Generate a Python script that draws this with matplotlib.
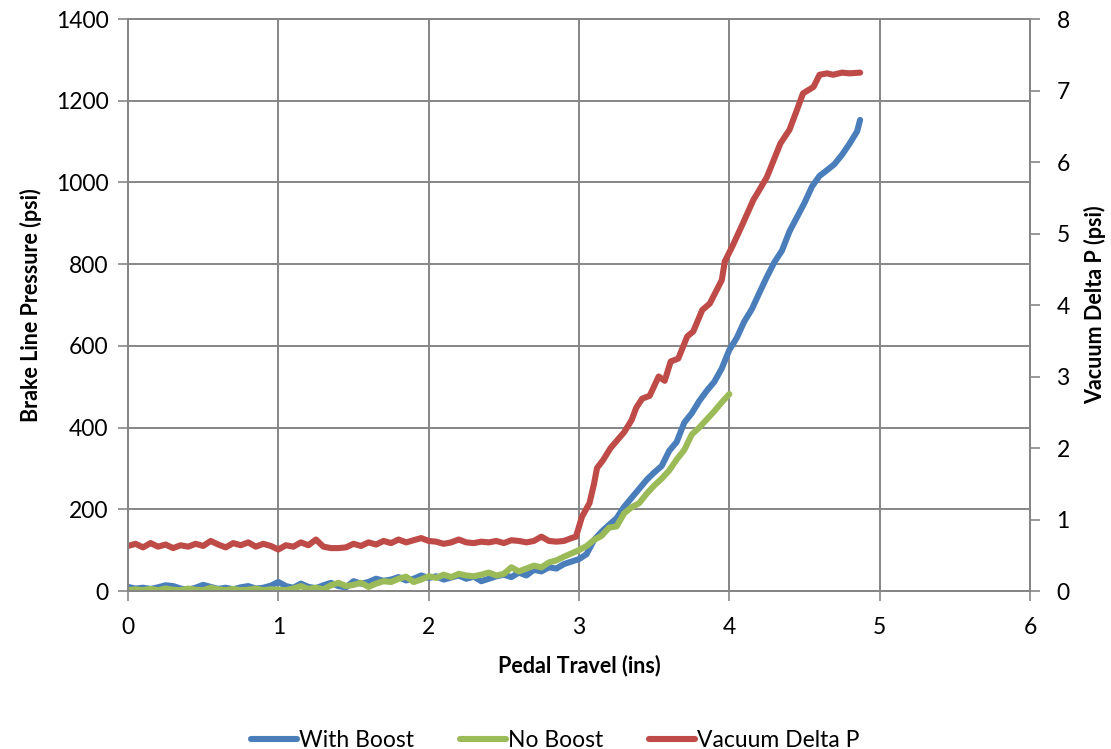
import matplotlib
matplotlib.use("Agg")
import matplotlib.pyplot as plt

# ---- data ----
wb_x = [0.00,0.05,0.10,0.15,0.20,0.25,0.30,0.35,0.40,0.45,0.50,0.55,0.60,0.65,0.70,0.75,0.80,0.85,0.90,0.95,
        1.00,1.05,1.10,1.15,1.20,1.25,1.30,1.35,1.40,1.45,1.50,1.55,1.60,1.65,1.70,1.75,1.80,1.85,1.90,1.95,
        2.00,2.05,2.10,2.15,2.20,2.25,2.30,2.35,2.40,2.45,2.50,2.55,2.60,2.65,2.70,2.75,2.80,2.85,2.90,2.95,
        3.00,3.05,3.10,3.15,3.20,3.25,3.30,3.35,3.40,3.45,3.50,3.55,3.60,3.65,3.70,3.75,3.80,3.85,3.90,3.95,
        4.00,4.05,4.10,4.15,4.20,4.25,4.30,4.35,4.40,4.45,4.50,4.55,4.60,4.65,4.70,4.75,4.80,4.85,4.87]
wb_y = [10,6,8,5,9,14,12,6,3,8,15,10,5,8,4,9,12,6,8,13,
        22,12,8,18,10,7,14,20,12,9,24,18,22,30,25,28,34,26,30,38,
        32,36,28,33,38,30,35,24,30,36,40,34,45,38,52,48,58,55,66,72,
        78,90,125,145,162,178,206,228,250,272,290,306,343,365,412,435,465,490,512,545,
        590,620,660,690,730,769,805,833,880,915,950,990,1016,1030,1045,1068,1095,1125,1153]

nb_x = [0.00,0.05,0.10,0.15,0.20,0.25,0.30,0.35,0.40,0.45,0.50,0.55,0.60,0.65,0.70,0.75,0.80,0.85,0.90,0.95,
        1.00,1.05,1.10,1.15,1.20,1.25,1.30,1.35,1.40,1.45,1.50,1.55,1.60,1.65,1.70,1.75,1.80,1.85,1.90,1.95,
        2.00,2.05,2.10,2.15,2.20,2.25,2.30,2.35,2.40,2.45,2.50,2.55,2.60,2.65,2.70,2.75,2.80,2.85,2.90,2.95,
        3.00,3.05,3.10,3.15,3.20,3.25,3.30,3.35,3.40,3.45,3.50,3.55,3.60,3.65,3.70,3.75,3.80,3.85,3.90,3.95,4.00]
nb_y = [2,4,2,5,2,6,3,2,6,3,2,8,4,2,5,2,3,6,2,4,
        3,2,6,12,5,8,4,14,20,12,15,20,10,18,24,22,30,35,22,28,
        36,32,40,34,42,38,36,40,45,38,42,58,48,55,62,58,70,75,84,92,
        100,110,125,135,155,158,190,205,215,238,258,275,295,322,345,383,400,420,440,462,482]

vd_x = [0.00,0.05,0.10,0.15,0.20,0.25,0.30,0.35,0.40,0.45,0.50,0.55,0.60,0.65,0.70,0.75,0.80,0.85,0.90,0.95,
        1.00,1.05,1.10,1.15,1.20,1.25,1.30,1.35,1.40,1.45,1.50,1.55,1.60,1.65,1.70,1.75,1.80,1.85,1.90,1.95,
        2.00,2.05,2.10,2.15,2.20,2.25,2.30,2.35,2.40,2.45,2.50,2.55,2.60,2.65,2.70,2.75,2.80,2.85,2.90,2.95,
        2.98,3.02,3.07,3.10,3.12,3.16,3.21,3.30,3.35,3.38,3.42,3.47,3.53,3.57,3.61,3.66,3.72,3.76,3.82,3.87,
        3.95,3.97,4.02,4.09,4.16,4.20,4.25,4.34,4.40,4.45,4.49,4.56,4.60,4.65,4.69,4.75,4.80,4.87]
vd_y = [0.63,0.66,0.61,0.67,0.62,0.65,0.60,0.64,0.62,0.66,0.63,0.70,0.65,0.61,0.67,0.64,0.68,0.62,0.66,0.63,
        0.58,0.64,0.62,0.68,0.64,0.72,0.62,0.60,0.60,0.61,0.66,0.63,0.68,0.65,0.70,0.67,0.72,0.68,0.71,0.74,
        0.70,0.69,0.66,0.68,0.72,0.68,0.67,0.69,0.68,0.70,0.67,0.71,0.70,0.68,0.70,0.76,0.70,0.69,0.70,0.74,
        0.76,1.04,1.23,1.50,1.72,1.83,2.00,2.22,2.39,2.56,2.69,2.73,3.00,2.94,3.21,3.25,3.56,3.63,3.93,4.02,
        4.35,4.61,4.82,5.14,5.47,5.61,5.79,6.26,6.45,6.73,6.96,7.05,7.22,7.24,7.22,7.25,7.24,7.25]

x_ticks = [0, 1, 2, 3, 4, 5, 6]
left_ticks = [0, 200, 400, 600, 800, 1000, 1200, 1400]
right_ticks = [0, 1, 2, 3, 4, 5, 6, 7, 8]

BLUE = "#4A7EBB"
GREEN = "#9BBB59"
RED = "#BE4B48"
GRID = "#868686"

plt.rcParams['font.family'] = ['Lato', 'DejaVu Sans']

fig = plt.figure(figsize=(11.11, 7.49), dpi=100)
ax = fig.add_axes([128/1111, 1 - 591/749, (1030-128)/1111, (591-19)/749])
ax2 = ax.twinx()

LW = 4.4
l1, = ax.plot(wb_x, wb_y, color=BLUE, lw=LW, solid_capstyle='round', solid_joinstyle='round', label='With Boost')
l2, = ax.plot(nb_x, nb_y, color=GREEN, lw=LW, solid_capstyle='round', solid_joinstyle='round', label='No Boost')
l3, = ax2.plot(vd_x, vd_y, color=RED, lw=LW, solid_capstyle='round', solid_joinstyle='round', label='Vacuum Delta P')

ax.set_xlim(0, 6)
ax.set_ylim(0, 1400)
ax2.set_ylim(0, 8)
ax.set_xticks(x_ticks)
ax.set_yticks(left_ticks)
ax2.set_yticks(right_ticks)
ax.set_xticklabels([str(v) for v in x_ticks])
ax.set_yticklabels([str(v) for v in left_ticks])
ax2.set_yticklabels([str(v) for v in right_ticks])

ax.grid(True, color=GRID, lw=1.4)
ax.set_axisbelow(True)
for a in (ax, ax2):
    for s in a.spines.values():
        s.set_color(GRID)
        s.set_linewidth(1.4)
ax.tick_params(axis='both', direction='out', length=7, width=1.2, color=GRID,
               labelsize=16.5, labelcolor='black')
ax.tick_params(axis='x', pad=12)
ax.tick_params(axis='y', pad=7)
ax2.tick_params(axis='y', direction='out', length=7, width=1.2, color=GRID,
                labelsize=16.5, labelcolor='black', pad=12)

ax.set_xlabel('Pedal Travel (ins)', fontsize=15.5, fontweight='bold', labelpad=12)
ax.set_ylabel('Brake Line Pressure (psi)', fontsize=15.5, fontweight='bold', labelpad=10)
ax2.set_ylabel('Vacuum Delta P (psi)', fontsize=15.5, fontweight='bold', labelpad=10)

fig.legend(handles=[l1, l2, l3], loc='lower center', bbox_to_anchor=(0.5, -0.03),
           ncol=3, frameon=False, fontsize=16.5, handlelength=2.0, handletextpad=0.1,
           columnspacing=2.0)

fig.savefig('out.png', dpi=100)
